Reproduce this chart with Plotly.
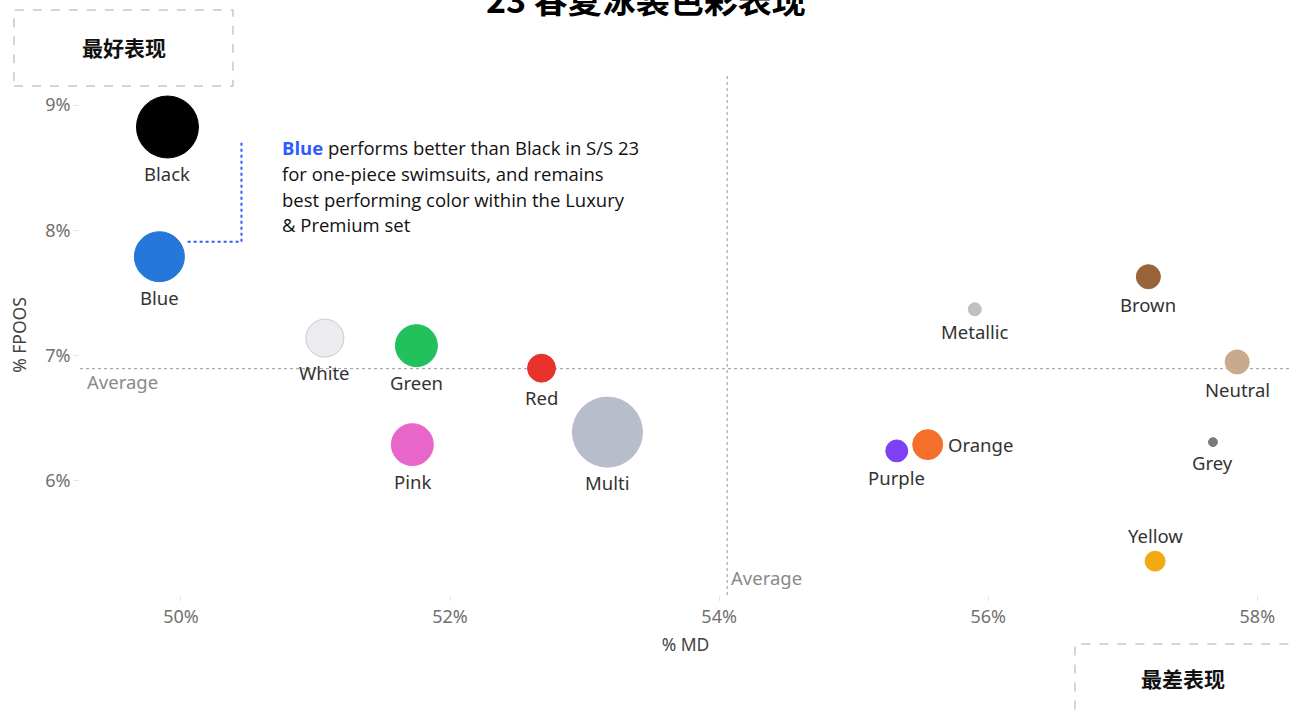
import math
import plotly.graph_objects as go

# ---------------- data ----------------
colors_names = ["Black", "Blue", "White", "Green", "Red", "Pink", "Multi",
                "Purple", "Orange", "Metallic", "Brown", "Neutral", "Grey", "Yellow"]
md_pct = [49.90, 49.84, 51.07, 51.75, 52.68, 51.72, 53.17,
          55.32, 55.55, 55.90, 57.19, 57.85, 57.67, 57.24]
fpoos_pct = [8.825, 7.79, 7.14, 7.08, 6.90, 6.29, 6.39,
             6.24, 6.29, 7.37, 7.63, 6.95, 6.31, 5.36]
volume = [3840, 2500, 1440, 1760, 780, 1760, 4900,
          480, 900, 170, 580, 580, 80, 400]
avg_md = 54.06
avg_fpoos = 6.896
x_ticks = [50, 52, 54, 56, 58]
x_tick_text = ["50%", "52%", "54%", "56%", "58%"]
y_ticks = [6, 7, 8, 9]
y_tick_text = ["6%", "7%", "8%", "9%"]
note_lines = [
    "<b><span style='color:#2e5bff'>Blue</span></b> performs better than Black in S/S 23",
    "for one-piece swimsuits, and remains",
    "best performing color within the Luxury",
    "& Premium set",
]

# ---------------- styles ----------------
fill = ["#000000", "#2677d9", "#ebebf0", "#22c15c", "#e8322b", "#e866c9", "#b7bdcb",
        "#7d41f3", "#f36f2a", "#c0c0c0", "#9a643a", "#c9aa8c", "#7a7a7a", "#f2aa12"]
edge = ["#000000", "#2677d9", "#c9c9cf", "#22c15c", "#e8322b", "#e866c9", "#b7bdcb",
        "#7d41f3", "#f36f2a", "#c0c0c0", "#9a643a", "#c9aa8c", "#7a7a7a", "#f2aa12"]
label_side = ["below"] * 14
label_side[colors_names.index("Orange")] = "right"
label_side[colors_names.index("Yellow")] = "above"

FONT = "Noto Sans"
SIZEREF = 2

fig = go.Figure()
fig.add_trace(go.Scatter(
    x=md_pct, y=fpoos_pct, mode="markers",
    text=colors_names,
    marker=dict(size=volume, sizemode="area", sizeref=SIZEREF, color=fill,
                opacity=1, line=dict(color=edge, width=1)),
    hoverinfo="text", showlegend=False,
))

x_range = [49.25, 58.25]
y_range = [5.09, 9.24]

shapes = [
    dict(type="line", xref="x", yref="paper", x0=avg_md, x1=avg_md, y0=0, y1=1,
         line=dict(color="#999999", width=1, dash="dot"), layer="below"),
    dict(type="line", xref="paper", yref="y", x0=0, x1=1, y0=avg_fpoos, y1=avg_fpoos,
         line=dict(color="#999999", width=1, dash="dot"), layer="below"),
    # callout connector from Blue
    dict(type="line", xref="x", yref="y", x0=50.05, x1=50.45, y0=7.91, y1=7.91,
         line=dict(color="#2e5bff", width=2, dash="dot")),
    dict(type="line", xref="x", yref="y", x0=50.45, x1=50.45, y0=7.91, y1=8.7,
         line=dict(color="#2e5bff", width=2, dash="dot")),
    # best / worst boxes (paper coords)
    dict(type="rect", xref="paper", yref="paper", x0=-0.0545, x1=0.1263, y0=0.979, y1=1.125,
         line=dict(color="#c8c8c8", width=1.5, dash="dash"), fillcolor="rgba(0,0,0,0)"),
    dict(type="rect", xref="paper", yref="paper", x0=0.8216, x1=1.01, y0=-0.25, y1=-0.094,
         line=dict(color="#c8c8c8", width=1.5, dash="dash"), fillcolor="rgba(0,0,0,0)"),
]

annotations = [
    dict(text="<b>23 春夏泳装色彩表现</b>", xref="paper", yref="paper", x=0.467, y=1.144,
         xanchor="center", yanchor="middle", yshift=2, showarrow=False,
         font=dict(family="Noto Sans CJK SC", size=34, color="#000000")),
    dict(text="<b>最好表现</b>", xref="paper", yref="paper", x=0.0363, y=1.054,
         xanchor="center", yanchor="middle", showarrow=False,
         font=dict(family="Noto Sans CJK SC", size=21, color="#111111")),
    dict(text="<b>最差表现</b>", xref="paper", yref="paper", x=0.911, y=-0.16,
         xanchor="center", yanchor="middle", showarrow=False,
         font=dict(family="Noto Sans CJK SC", size=21, color="#111111")),
    dict(text="Average", xref="paper", yref="y", x=0.004, y=avg_fpoos,
         xanchor="left", yanchor="top", yshift=2, showarrow=False,
         font=dict(family=FONT, size=18.5, color="#8a8a8a")),
    dict(text="Average", xref="x", yref="paper", x=avg_md, y=0.0,
         xanchor="left", yanchor="bottom", xshift=2, yshift=3, showarrow=False,
         font=dict(family=FONT, size=18.5, color="#8a8a8a")),
]

for i, line in enumerate(note_lines):
    annotations.append(dict(
        text=line, xref="x", yref="y", x=50.74, y=8.775, xanchor="left", yanchor="top",
        align="left", showarrow=False, yshift=-25.7 * i,
        font=dict(family="Open Sans", size=18.5, color="#111111")))

GAP = 15.5
for name, x, y, v, side in zip(colors_names, md_pct, fpoos_pct, volume, label_side):
    r = math.sqrt(v / SIZEREF / 2)
    a = dict(text=name, x=x, y=y, xref="x", yref="y", showarrow=False,
             font=dict(family=FONT, size=18.5, color="#333333"))
    if side == "below":
        a.update(xanchor="center", yanchor="middle", yshift=-(r + GAP))
    elif side == "above":
        a.update(xanchor="center", yanchor="middle", yshift=(r + GAP))
    else:
        a.update(xanchor="left", yanchor="middle", xshift=r + 3)
    annotations.append(a)

fig.update_layout(
    width=1291, height=711,
    margin=dict(l=80, r=0, t=75, b=116),
    paper_bgcolor="white", plot_bgcolor="white",
    shapes=shapes, annotations=annotations,
    xaxis=dict(range=x_range, tickvals=x_ticks, ticktext=x_tick_text,
               showgrid=False, zeroline=False, showline=False,
               ticks="outside", ticklen=5, tickcolor="#e4e4e4",
               tickfont=dict(family=FONT, size=18, color="#707070"),
               title=dict(text="% MD", font=dict(family=FONT, size=17.5, color="#444444"),
                          standoff=12)),
    yaxis=dict(range=y_range, tickvals=y_ticks, ticktext=y_tick_text,
               showgrid=False, zeroline=False, showline=False,
               ticks="outside", ticklen=5, tickcolor="#e4e4e4",
               tickfont=dict(family=FONT, size=18, color="#707070"),
               title=dict(text="% FPOOS", font=dict(family=FONT, size=17.5, color="#444444"),
                          standoff=14)),
)

fig.write_html("out.html", config={"displayModeBar": False},
               post_script="document.body.style.margin='0';")
